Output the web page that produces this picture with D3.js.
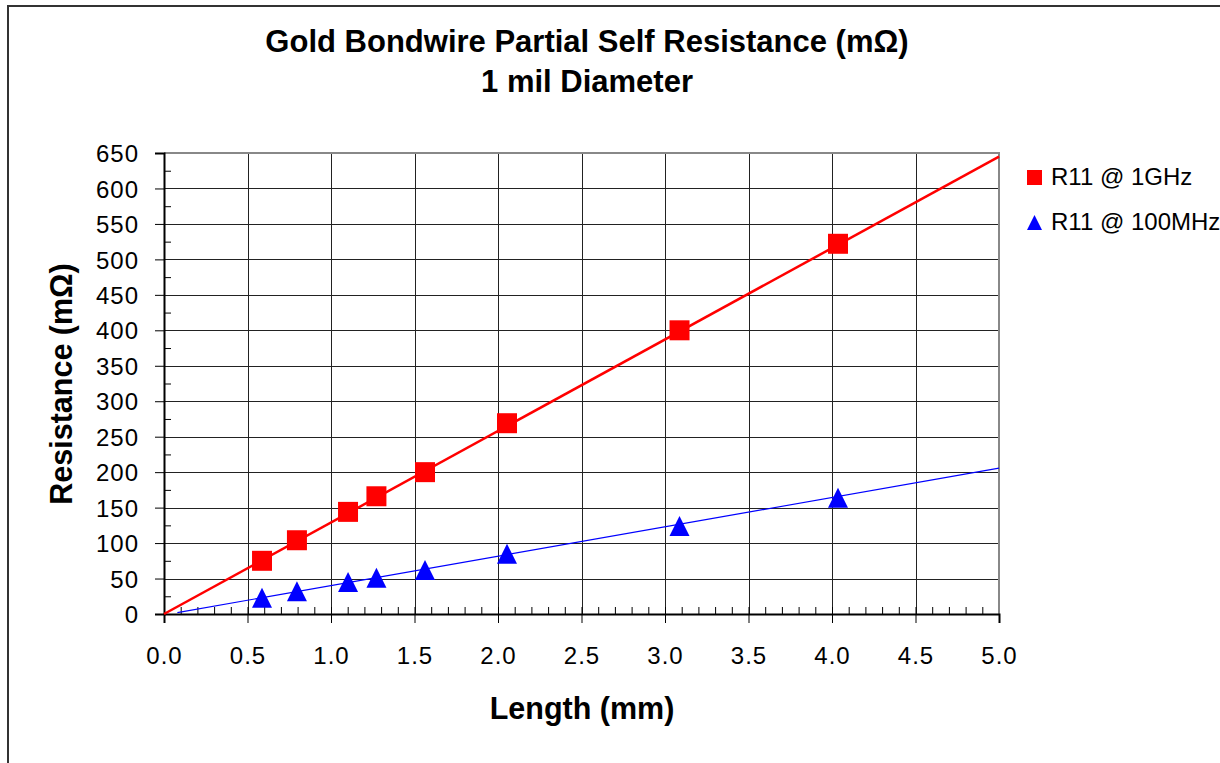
<!DOCTYPE html>
<html>
<head>
<meta charset="utf-8">
<script src="https://cdn.jsdelivr.net/npm/d3@7"></script>
<style>
  body { margin: 0; background: #fff; }
  svg { display: block; font-family: "Liberation Sans", Arial, sans-serif; }
</style>
</head>
<body>
<div id="chart"></div>
<script>
// bondwire lengths (mm) and measured resistance (mOhm)
const lengths = [0.587, 0.796, 1.102, 1.272, 1.563, 2.054, 3.087, 4.036];
const r1GHz = [75, 104, 144, 166, 200, 269, 400, 522];
const r100MHz = [23, 32, 45, 51, 62, 85, 124, 164];

// linear trend lines, [length, resistance]
const trend1GHz = [[0, 0], [5, 645]];
const trend100MHz = [[0.08, 2], [5, 205.7]];

const xTicks = [0, 0.5, 1, 1.5, 2, 2.5, 3, 3.5, 4, 4.5, 5];
const yTicks = d3.range(0, 651, 50);
const seriesNames = ["R11 @ 1GHz", "R11 @ 100MHz"];
const seriesColors = ["#ff0000", "#0000ff"];

const W = 1220, H = 763;
const plotLeft = 164, plotRight = 999, plotTop = 153, plotBottom = 614;

const svg = d3.select("#chart").append("svg")
  .attr("width", W)
  .attr("height", H);

// outer chart frame (only top and left edges show)
svg.append("path")
  .attr("d", `M8,${H} L8,6 L${W},6`)
  .attr("fill", "none")
  .attr("stroke", "#333")
  .attr("stroke-width", 2);

const x = d3.scaleLinear().domain([0, 5]).range([plotLeft, plotRight]);
const y = d3.scaleLinear().domain([0, 650]).range([plotBottom, plotTop]);

// gridlines
const grid = svg.append("g").attr("stroke", "#222").attr("stroke-width", 1);
grid.selectAll("line.v")
  .data(xTicks.slice(1, -1))
  .enter().append("line")
  .attr("x1", d => Math.round(x(d)) + 0.5).attr("x2", d => Math.round(x(d)) + 0.5)
  .attr("y1", plotTop).attr("y2", plotBottom);
grid.selectAll("line.h")
  .data(yTicks.slice(1, -1))
  .enter().append("line")
  .attr("x1", plotLeft).attr("x2", plotRight)
  .attr("y1", d => Math.round(y(d)) + 0.5).attr("y2", d => Math.round(y(d)) + 0.5);

// plot area border, top and right
svg.append("path")
  .attr("d", `M${plotLeft},${plotTop} L${plotRight},${plotTop} L${plotRight},${plotBottom}`)
  .attr("fill", "none")
  .attr("stroke", "#888")
  .attr("stroke-width", 2);

// minor ticks pointing inward
svg.append("g")
  .attr("transform", `translate(0,${plotBottom})`)
  .call(d3.axisTop(x).tickValues(d3.range(0.1, 5, 0.1)).tickSize(7).tickFormat(""))
  .call(g => g.select(".domain").remove())
  .selectAll("line").attr("stroke", "#000");
svg.append("g")
  .attr("transform", `translate(${plotLeft},0)`)
  .call(d3.axisRight(y).tickValues(d3.range(25, 650, 50)).tickSize(7).tickFormat(""))
  .call(g => g.select(".domain").remove())
  .selectAll("line").attr("stroke", "#000");

// major axes
const xAxis = svg.append("g")
  .attr("transform", `translate(0,${plotBottom})`)
  .call(d3.axisBottom(x).tickValues(xTicks).tickSize(9).tickPadding(24).tickFormat(d3.format(".1f")));
const yAxis = svg.append("g")
  .attr("transform", `translate(${plotLeft},0)`)
  .call(d3.axisLeft(y).tickValues(yTicks).tickSize(9).tickPadding(16).tickFormat(d3.format("d")));
[xAxis, yAxis].forEach(g => {
  g.selectAll("line").attr("stroke", "#000");
  g.select(".domain").attr("stroke", "#000").attr("stroke-width", 2);
  g.selectAll("text")
    .attr("fill", "#000")
    .style("font-family", "'Liberation Sans', Arial, sans-serif")
    .style("font-size", "24px")
    .style("letter-spacing", "1px");
});
yAxis.selectAll("text").attr("dy", "0.36em");

// trend lines
const line = d3.line().x(d => x(d[0])).y(d => y(d[1]));
svg.append("path").datum(trend1GHz)
  .attr("d", line).attr("fill", "none")
  .attr("stroke", seriesColors[0]).attr("stroke-width", 2.5);
svg.append("path").datum(trend100MHz)
  .attr("d", line).attr("fill", "none")
  .attr("stroke", seriesColors[1]).attr("stroke-width", 1.2);

// markers
const squareSym = d3.symbol().type(d3.symbolSquare).size(400);
const triPath = s => `M0,${-s / 2} L${s / 2},${s / 2} L${-s / 2},${s / 2} Z`;

svg.append("g").selectAll("path")
  .data(lengths.map((l, i) => [l, r1GHz[i]]))
  .enter().append("path")
  .attr("d", squareSym)
  .attr("transform", d => `translate(${x(d[0])},${y(d[1])})`)
  .attr("fill", seriesColors[0]);

svg.append("g").selectAll("path")
  .data(lengths.map((l, i) => [l, r100MHz[i]]))
  .enter().append("path")
  .attr("d", triPath(20))
  .attr("transform", d => `translate(${x(d[0])},${y(d[1])})`)
  .attr("fill", seriesColors[1]);

// titles
const title = svg.append("text")
  .attr("text-anchor", "middle")
  .attr("font-weight", "bold")
  .attr("font-size", 31)
  .attr("fill", "#000");
title.append("tspan").attr("x", 587).attr("y", 52).text("Gold Bondwire Partial Self Resistance (m\u03A9)");
title.append("tspan").attr("x", 587).attr("y", 92).text("1 mil Diameter");

svg.append("text")
  .attr("x", 582).attr("y", 719)
  .attr("text-anchor", "middle")
  .attr("font-weight", "bold")
  .attr("font-size", 30.5)
  .text("Length (mm)");

svg.append("text")
  .attr("transform", "translate(72,384) rotate(-90)")
  .attr("text-anchor", "middle")
  .attr("font-weight", "bold")
  .attr("font-size", 30.5)
  .text("Resistance (m\u03A9)");

// legend
const legend = svg.append("g");
seriesNames.forEach((name, i) => {
  const base = 185 + i * 45;
  if (i === 0) {
    legend.append("rect").attr("x", 1027).attr("y", base - 15).attr("width", 15).attr("height", 15)
      .attr("fill", seriesColors[i]);
  } else {
    legend.append("path").attr("d", triPath(15))
      .attr("transform", `translate(1034.5,${base - 7.5})`)
      .attr("fill", seriesColors[i]);
  }
  legend.append("text")
    .attr("x", 1051).attr("y", base)
    .attr("font-size", 24)
    .text(name);
});
</script>
</body>
</html>
